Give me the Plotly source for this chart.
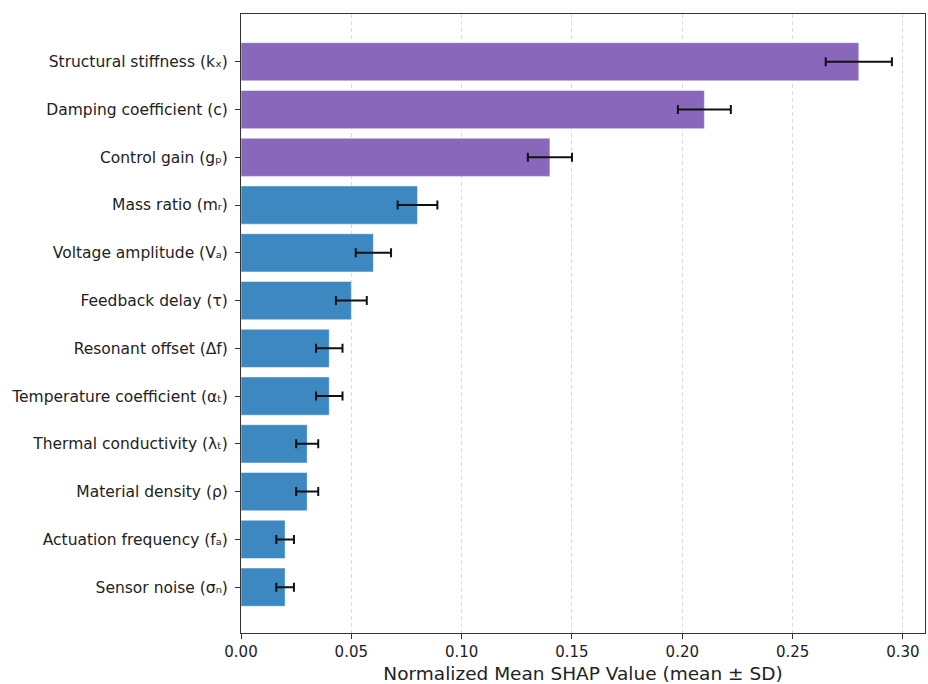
import plotly.graph_objects as go

# Feature importance (normalized mean |SHAP|) with standard deviation, listed top to bottom
features = [
    "Structural stiffness (kₓ)",
    "Damping coefficient (c)",
    "Control gain (gₚ)",
    "Mass ratio (mᵣ)",
    "Voltage amplitude (Vₐ)",
    "Feedback delay (τ)",
    "Resonant offset (Δf)",
    "Temperature coefficient (αₜ)",
    "Thermal conductivity (λₜ)",
    "Material density (ρ)",
    "Actuation frequency (fₐ)",
    "Sensor noise (σₙ)",
]
mean_shap = [0.28, 0.21, 0.14, 0.08, 0.06, 0.05, 0.04, 0.04, 0.03, 0.03, 0.02, 0.02]
sd_shap = [0.015, 0.012, 0.010, 0.009, 0.008, 0.007, 0.006, 0.006, 0.005, 0.005, 0.004, 0.004]
top_group = 3  # leading features highlighted in purple

x_ticks = [0.00, 0.05, 0.10, 0.15, 0.20, 0.25, 0.30]
x_tick_text = [f"{v:.2f}" for v in x_ticks]

PURPLE = "#8968bc"
BLUE = "#3d88c1"
colors = [PURPLE if i < top_group else BLUE for i in range(len(features))]

fig = go.Figure(
    go.Bar(
        x=mean_shap,
        y=features,
        orientation="h",
        width=0.8,
        marker=dict(color=colors, line=dict(color="rgba(255,255,255,0.6)", width=0.8)),
        error_x=dict(type="data", array=sd_shap, visible=True,
                     color="#111111", thickness=2, width=4.5),
        hoverinfo="x+y",
    )
)

FONT = "DejaVu Sans, Verdana, sans-serif"
fig.update_layout(
    width=928,
    height=684,
    margin=dict(l=241, r=3, t=14, b=51),
    paper_bgcolor="white",
    plot_bgcolor="white",
    showlegend=False,
    font=dict(family=FONT, size=15, color="#222222"),
    xaxis=dict(
        range=[0, 0.31],
        tickvals=x_ticks,
        ticktext=x_tick_text,
        ticks="outside",
        ticklen=5,
        tickwidth=1,
        tickcolor="#333333",
        showline=True,
        linecolor="#333333",
        linewidth=1,
        mirror=True,
        showgrid=True,
        gridcolor="#dadada",
        gridwidth=1,
        griddash="4px,3px",
        zeroline=False,
        tickfont=dict(size=15),
        title=dict(text="Normalized Mean SHAP Value (mean ± SD)",
                   font=dict(size=18.5), standoff=7),
    ),
    yaxis=dict(
        type="category",
        categoryorder="array",
        categoryarray=features,
        range=[11.96, -1.0],
        ticks="outside",
        ticklen=5,
        tickwidth=1,
        tickcolor="#333333",
        showline=True,
        linecolor="#333333",
        linewidth=1,
        mirror=True,
        showgrid=False,
        zeroline=False,
        tickfont=dict(size=15.5),
        ticklabelstandoff=4,
    ),
)

fig.write_html("out.html")
